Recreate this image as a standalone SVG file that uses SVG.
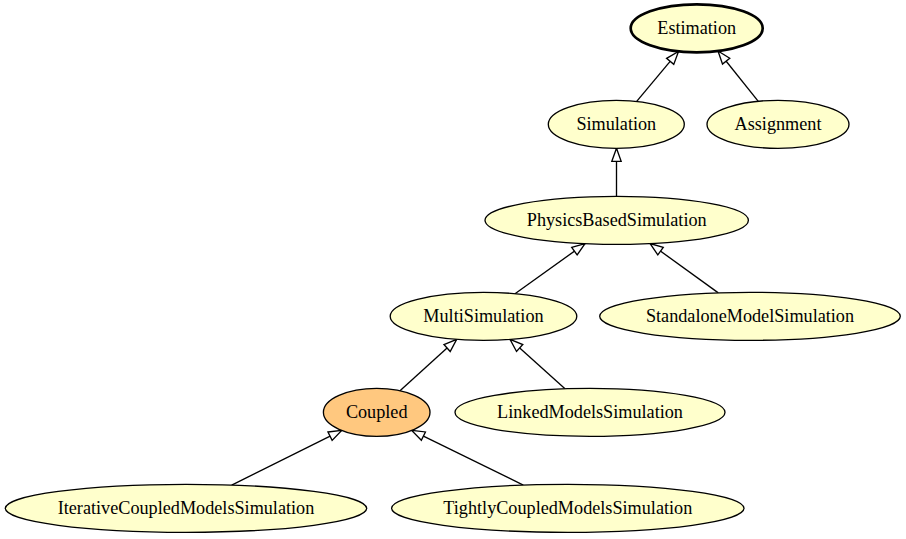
<svg xmlns="http://www.w3.org/2000/svg" width="906" height="539" viewBox="0 0 906 539">
<defs>
<style>
.n ellipse{fill:#ffffcc;stroke:#000;stroke-width:1.33}
.n text{font-family:'Liberation Serif',serif;font-size:18.2px;text-anchor:middle;fill:#000}
#edges line{stroke:#000;stroke-width:1.33;marker-end:url(#oa)}
</style>
<marker id="oa" markerUnits="userSpaceOnUse" markerWidth="16" markerHeight="12" refX="14" refY="5.67" orient="auto" overflow="visible">
<path d="M1,1 L14,5.67 L1,10.33 Z" fill="#fff" stroke="#000" stroke-width="1.33"/>
</marker>
</defs>
<rect width="906" height="539" fill="#fff"/>
<g transform="translate(0,-1)">
<g id="edges">
<line x1="636.7" y1="102.4" x2="678.5" y2="52.4"/>
<line x1="758.3" y1="102.3" x2="718" y2="52"/>
<line x1="616.5" y1="197.3" x2="616.5" y2="149.3"/>
<line x1="515" y1="294.7" x2="585" y2="244.6"/>
<line x1="718.3" y1="293.9" x2="650" y2="244.5"/>
<line x1="400" y1="391.7" x2="456.7" y2="340.3"/>
<line x1="565" y1="389.7" x2="510" y2="340.3"/>
<line x1="231.7" y1="486.1" x2="341.7" y2="431.4"/>
<line x1="523.3" y1="486.1" x2="411.7" y2="431.4"/>
</g>
<g id="Estimation" class="n"><ellipse cx="696.7" cy="29.33" rx="66" ry="24" style="stroke-width:2.67"/><text x="696.7" y="34.9">Estimation</text></g>
<g id="Simulation" class="n"><ellipse cx="616.3" cy="125.33" rx="68" ry="24"/><text x="616.3" y="130.9">Simulation</text></g>
<g id="Assignment" class="n"><ellipse cx="778" cy="125.33" rx="71" ry="24"/><text x="778" y="130.9">Assignment</text></g>
<g id="PhysicsBasedSimulation" class="n"><ellipse cx="616.7" cy="221.33" rx="131.7" ry="24"/><text x="616.7" y="226.9">PhysicsBasedSimulation</text></g>
<g id="MultiSimulation" class="n"><ellipse cx="483.5" cy="317.33" rx="93.3" ry="24"/><text x="483.5" y="322.9">MultiSimulation</text></g>
<g id="StandaloneModelSimulation" class="n"><ellipse cx="750" cy="317.33" rx="150.3" ry="24"/><text x="750" y="322.9">StandaloneModelSimulation</text></g>
<g id="Coupled" class="n"><ellipse cx="376.7" cy="413.33" rx="53.3" ry="24" style="fill:#ffc87f"/><text x="376.7" y="418.9">Coupled</text></g>
<g id="LinkedModelsSimulation" class="n"><ellipse cx="590" cy="413.33" rx="135" ry="24"/><text x="590" y="418.9">LinkedModelsSimulation</text></g>
<g id="IterativeCoupledModelsSimulation" class="n"><ellipse cx="186" cy="509.33" rx="180.7" ry="24"/><text x="186" y="514.9">IterativeCoupledModelsSimulation</text></g>
<g id="TightlyCoupledModelsSimulation" class="n"><ellipse cx="567.8" cy="509.33" rx="176.2" ry="24"/><text x="567.8" y="514.9">TightlyCoupledModelsSimulation</text></g>
</g>
</svg>
